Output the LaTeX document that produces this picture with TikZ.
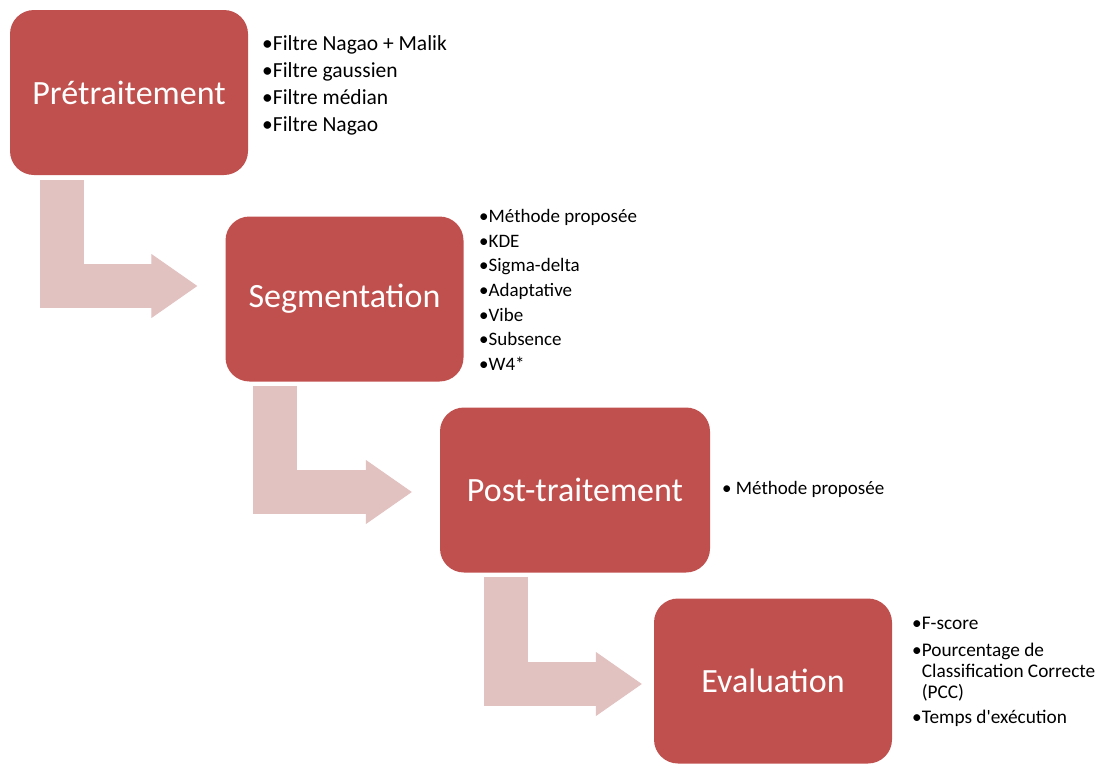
\documentclass[tikz,border=0pt]{standalone}
\usepackage{fontspec}
\setmainfont{Carlito}
\usetikzlibrary{arrows.meta}
\definecolor{boxred}{HTML}{C0504D}
\definecolor{flowpink}{HTML}{E2C1C1}

\begin{document}
\begin{tikzpicture}[x=1pt,y=-1pt,
  stage/.style={fill=boxred, text=white, rounded corners=24pt, inner sep=0pt,
    minimum width=238pt, minimum height=165pt, font=\fontsize{34}{40}\selectfont},
  items/.style={anchor=north west, align=left, inner sep=0pt},
  flow/.style={draw=flowpink, line width=44pt,
    -{Triangle[length=46pt 0 0, width=64pt 0 0, line width=1pt, fill=flowpink]}}
]
  \useasboundingbox (0,0) rectangle (1097,763);
  % the four stages
  \node[stage] (pre)  at (129,92.5)  {Prétraitement};
  \node[stage] (seg)  at (344.5,299) {Segmentation};
  \node[stage, minimum width=270pt] (post) at (575,490) {Post-traitement};
  \node[stage] (eval) at (773,681)   {Evaluation};
  % bent arrows between them
  \draw[flow] ([xshift=-67.5pt,yshift=-5pt]pre.south) |- ([xshift=-28pt,yshift=13pt]seg.west);
  \draw[flow] ([xshift=-69.5pt,yshift=-4pt]seg.south) |- ([xshift=-28pt,yshift=-2pt]post.west);
  \draw[flow] ([xshift=-69.5pt,yshift=-4pt]post.south) |- ([xshift=-12pt,yshift=-3pt]eval.west);
  % method lists
  \node[items, font=\fontsize{21.5}{27}\selectfont] (prelist) at (262,35)
    {•Filtre Nagao + Malik\\ •Filtre gaussien\\ •Filtre médian\\ •Filtre Nagao};
  \node[items, font=\fontsize{19}{24.7}\selectfont] (seglist) at (479,209)
    {•Méthode proposée\\ •KDE\\ •Sigma-delta\\ •Adaptative\\ •Vibe\\ •Subsence\\ •W4*};
  \node[items, font=\fontsize{19}{24.7}\selectfont] (postlist) at (722,481)
    {• Méthode proposée};
  \node[items, font=\fontsize{19.3}{21}\selectfont] (evallist) at (912,617)
    {•F-score\\[6pt] •Pourcentage de\\ \hphantom{•}Classification Correcte\\
     \hphantom{•}(PCC)\\[4pt] •Temps d\textquotesingle exécution};
\end{tikzpicture}
\end{document}
